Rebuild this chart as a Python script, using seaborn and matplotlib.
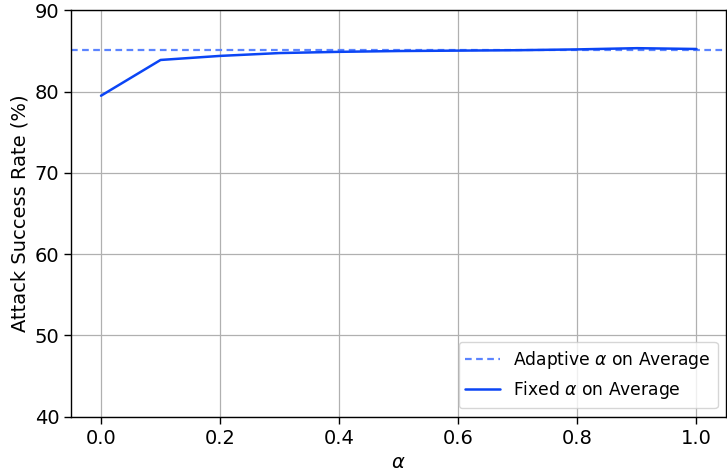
import matplotlib
matplotlib.use("Agg")
import matplotlib.pyplot as plt
import seaborn as sns
import pandas as pd

alphas = [0.0, 0.1, 0.2, 0.3, 0.4, 0.5, 0.6, 0.7, 0.8, 0.9, 1.0]
fixed_asr = [79.5, 83.9, 84.4, 84.75, 84.9, 85.0, 85.05, 85.1, 85.2, 85.35, 85.25]
adaptive_asr = 85.1

sns.set_style("whitegrid")
plt.rcParams['font.family'] = ['DejaVu Sans']
plt.rcParams['text.color'] = 'black'
plt.rcParams['axes.labelcolor'] = 'black'
plt.rcParams['xtick.color'] = 'black'
plt.rcParams['ytick.color'] = 'black'

fig, ax = plt.subplots(figsize=(7.27, 4.72), dpi=100)
df = pd.DataFrame({"alpha": alphas, "asr": fixed_asr})
ax.axhline(adaptive_asr, color="#5b84ff", linestyle=(0, (3, 2)), linewidth=1.6,
           label=r"Adaptive $\alpha$ on Average")
sns.lineplot(data=df, x="alpha", y="asr", ax=ax, color="#0b45f5", linewidth=1.8,
             label=r"Fixed $\alpha$ on Average")

ax.set_xlim(-0.05, 1.05)
ax.set_ylim(40, 90)
ax.set_xlabel(r"$\alpha$", fontsize=14)
ax.set_ylabel("Attack Success Rate (%)", fontsize=14)
ax.tick_params(axis="both", labelsize=14, length=5, width=1, color="black", left=True, bottom=True)
ax.grid(True, color="#b0b0b0", linewidth=0.9)
for s in ax.spines.values():
    s.set_color("black")
    s.set_linewidth(1.0)
ax.legend(loc="lower right", fontsize=12.3, frameon=True)
fig.subplots_adjust(left=0.098, right=0.999, top=0.978, bottom=0.117)
fig.savefig("out.png", dpi=100)
